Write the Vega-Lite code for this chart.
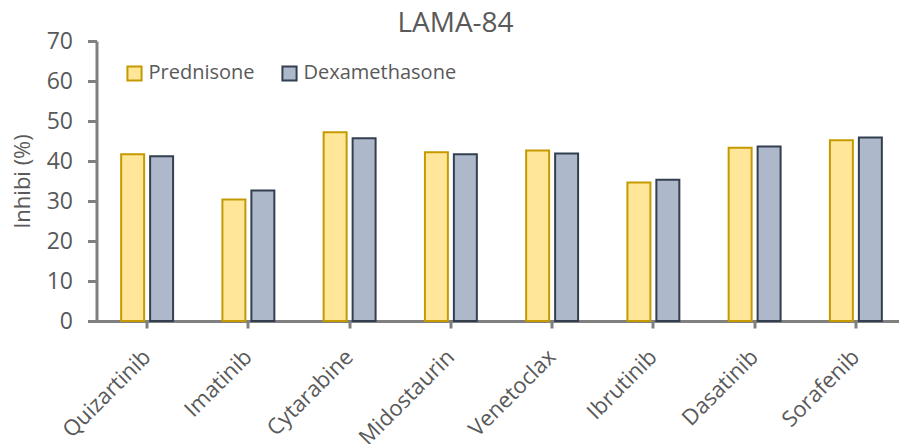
{
  "$schema": "https://vega.github.io/schema/vega-lite/v6.json",
  "autosize": "none",
  "width": 810,
  "height": 280,
  "padding": {"left": 96.5, "top": 41, "right": 0, "bottom": 123},
  "background": "white",
  "title": {"text": "LAMA-84", "fontSize": 28, "font": "Open Sans", "fontWeight": "normal", "color": "#595959", "anchor": "middle", "frame": "group", "dx": -46, "offset": -8},
  "data": {"values": [
    {"drug": "Quizartinib", "treatment": "Prednisone", "value": 41.7},
    {"drug": "Quizartinib", "treatment": "Dexamethasone", "value": 41.2},
    {"drug": "Imatinib", "treatment": "Prednisone", "value": 30.4},
    {"drug": "Imatinib", "treatment": "Dexamethasone", "value": 32.6},
    {"drug": "Cytarabine", "treatment": "Prednisone", "value": 47.2},
    {"drug": "Cytarabine", "treatment": "Dexamethasone", "value": 45.7},
    {"drug": "Midostaurin", "treatment": "Prednisone", "value": 42.2},
    {"drug": "Midostaurin", "treatment": "Dexamethasone", "value": 41.7},
    {"drug": "Venetoclax", "treatment": "Prednisone", "value": 42.6},
    {"drug": "Venetoclax", "treatment": "Dexamethasone", "value": 41.9},
    {"drug": "Ibrutinib", "treatment": "Prednisone", "value": 34.6},
    {"drug": "Ibrutinib", "treatment": "Dexamethasone", "value": 35.3},
    {"drug": "Dasatinib", "treatment": "Prednisone", "value": 43.3},
    {"drug": "Dasatinib", "treatment": "Dexamethasone", "value": 43.6},
    {"drug": "Sorafenib", "treatment": "Prednisone", "value": 45.2},
    {"drug": "Sorafenib", "treatment": "Dexamethasone", "value": 45.9}
  ]},
  "mark": {"type": "bar", "strokeWidth": 2},
  "encoding": {
    "x": {
      "field": "drug", "type": "nominal", "sort": null,
      "scale": {"paddingInner": 0.487, "paddingOuter": 0.2435},
      "axis": {
        "title": null, "labelAngle": -45, "labelAlign": "right", "labelBaseline": "middle",
        "labelFont": "Open Sans", "labelFontSize": 22, "labelColor": "#595959", "labelPadding": 25,
        "domainColor": "#808080", "domainWidth": 3, "tickColor": "#808080", "tickWidth": 3, "tickSize": 7,
        "grid": false
      }
    },
    "xOffset": {
      "field": "treatment", "type": "nominal", "sort": ["Prednisone", "Dexamethasone"],
      "scale": {"paddingInner": 0.207, "paddingOuter": 0}
    },
    "y": {
      "field": "value", "type": "quantitative",
      "scale": {"domain": [0, 70], "nice": false},
      "axis": {
        "title": "Inhibi (%)", "titleFont": "Open Sans", "titleFontSize": 22, "titleFontWeight": "normal", "titleColor": "#595959",
        "titleX": -74, "titleY": 140, "titleAngle": -90, "titleAlign": "center", "titleBaseline": "middle",
        "values": [0, 10, 20, 30, 40, 50, 60, 70],
        "labelFont": "Open Sans", "labelFontSize": 23, "labelColor": "#595959", "labelPadding": 15,
        "domainColor": "#808080", "domainWidth": 3, "tickColor": "#808080", "tickWidth": 3, "tickSize": 9,
        "grid": false
      }
    },
    "fill": {
      "field": "treatment", "type": "nominal",
      "scale": {"domain": ["Prednisone", "Dexamethasone"], "range": ["#FFE699", "#ADB9CA"]},
      "legend": {
        "title": null, "orient": "none", "legendX": 28, "legendY": 22, "direction": "horizontal",
        "symbolType": "square", "symbolSize": 200, "symbolStrokeWidth": 2,
        "labelFont": "Open Sans", "labelFontSize": 20, "labelColor": "#595959", "columnPadding": 22, "labelOffset": 4
      }
    },
    "stroke": {
      "field": "treatment", "type": "nominal",
      "scale": {"domain": ["Prednisone", "Dexamethasone"], "range": ["#C59A00", "#333F50"]},
      "legend": null
    }
  },
  "config": {"view": {"stroke": null}}
}
